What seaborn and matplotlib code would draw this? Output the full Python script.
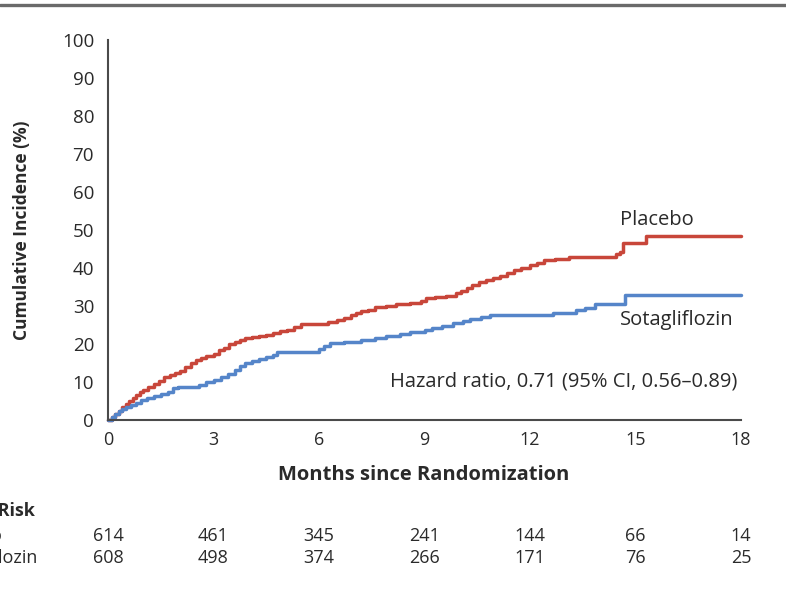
import matplotlib
matplotlib.use("Agg")
import matplotlib.pyplot as plt
from matplotlib.lines import Line2D
import seaborn as sns
import pandas as pd

# ---------------- data ----------------
placebo_t = [0, 0.1, 0.2, 0.3, 0.4, 0.5, 0.6, 0.7, 0.8, 0.9, 1.0, 1.15, 1.3, 1.45, 1.6, 1.75,
             1.9, 2.05, 2.2, 2.35, 2.5, 2.65, 2.8, 3.0, 3.15, 3.3, 3.45, 3.6, 3.75, 3.9, 4.1,
             4.3, 4.5, 4.7, 4.9, 5.1, 5.3, 5.5, 6.25, 6.5, 6.7, 6.9, 7.05, 7.2, 7.4, 7.6, 7.9,
             8.2, 8.6, 8.9, 9.05, 9.3, 9.6, 9.9, 10.05, 10.2, 10.35, 10.55, 10.75, 10.95,
             11.15, 11.35, 11.55, 11.75, 12.0, 12.2, 12.4, 12.7, 13.1, 14.45, 14.55, 14.65,
             15.3, 18.0]
placebo_v = [0, 0.8, 1.6, 2.5, 3.3, 4.1, 5.0, 5.7, 6.5, 7.3, 7.9, 8.8, 9.6, 10.3, 11.2, 11.8,
             12.3, 13.0, 14.0, 15.0, 15.8, 16.3, 16.8, 17.5, 18.3, 19.0, 20.0, 20.6, 21.0, 21.5,
             21.8, 22.2, 22.5, 22.8, 23.3, 23.8, 24.5, 25.2, 25.8, 26.3, 26.8, 27.6, 28.2, 28.6,
             29.0, 29.7, 30.0, 30.5, 30.8, 31.2, 32.2, 32.4, 32.7, 33.3, 34.0, 34.8, 35.4, 36.2,
             36.8, 37.5, 38.0, 38.8, 39.5, 40.0, 40.8, 41.3, 42.0, 42.3, 43.0, 43.6, 44.3, 46.5,
             48.5, 48.5]

sota_t = [0, 0.1, 0.2, 0.3, 0.4, 0.5, 0.65, 0.8, 0.95, 1.1, 1.3, 1.5, 1.7, 1.85, 2.0, 2.3,
          2.6, 2.8, 3.0, 3.2, 3.4, 3.6, 3.75, 3.9, 4.1, 4.3, 4.5, 4.7, 4.8, 5.9, 6.0, 6.15,
          6.3, 6.7, 7.2, 7.6, 7.9, 8.3, 8.6, 9.0, 9.2, 9.5, 9.8, 10.1, 10.3, 10.6, 10.85,
          12.65, 13.3, 13.55, 13.85, 14.7, 18.0]
sota_v = [0, 0.7, 1.5, 2.3, 3.0, 3.5, 4.0, 4.6, 5.3, 5.8, 6.3, 6.8, 7.3, 8.3, 8.6, 8.8,
          9.3, 9.9, 10.5, 11.2, 12.2, 13.2, 14.2, 15.0, 15.6, 16.0, 16.6, 17.2, 17.8, 18.0,
          18.7, 19.5, 20.2, 20.6, 21.0, 21.5, 22.0, 22.6, 23.2, 23.6, 24.2, 24.8, 25.4, 26.0,
          26.6, 27.0, 27.6, 28.2, 28.9, 29.6, 30.5, 32.9, 32.9]

risk_months = [0, 3, 6, 9, 12, 15, 18]
risk_placebo = [614, 461, 345, 241, 144, 66, 14]
risk_sota = [608, 498, 374, 266, 171, 76, 25]

x_ticks = [0, 3, 6, 9, 12, 15, 18]
y_ticks = [0, 10, 20, 30, 40, 50, 60, 70, 80, 90, 100]

# ---------------- style ----------------
sns.set_style("white")
plt.rcParams["font.family"] = ["Open Sans", "DejaVu Sans"]

RED = "#c8463a"
BLUE = "#5585c9"
GRAY = "#4a4a4a"
TXT = "#2a2a2a"

W, H = 786, 589
fig = plt.figure(figsize=(W / 100, H / 100), dpi=100)
fig.patch.set_facecolor("white")


def fx(px):
    return px / W


def fy(py):
    return 1 - py / H


X0, X1, Y0, Y1 = 108, 741, 420, 40
ax = fig.add_axes([fx(X0), fy(Y0), fx(X1) - fx(X0), fy(Y1) - fy(Y0)])

df = pd.concat([
    pd.DataFrame({"Months": placebo_t, "Incidence": placebo_v, "Group": "Placebo"}),
    pd.DataFrame({"Months": sota_t, "Incidence": sota_v, "Group": "Sotagliflozin"}),
])

sns.lineplot(data=df, x="Months", y="Incidence", hue="Group",
             palette={"Placebo": RED, "Sotagliflozin": BLUE},
             estimator=None, sort=False, drawstyle="steps-post",
             linewidth=2.5, legend=False, ax=ax, clip_on=False)

ax.set_xlim(0, 18)
ax.set_ylim(0, 100)
ax.set_xticks(x_ticks)
ax.set_yticks(y_ticks)
ax.set_xticklabels([str(t) for t in x_ticks], fontsize=13, color=TXT)
ax.set_yticklabels([str(t) for t in y_ticks], fontsize=13.5, color=TXT)
ax.tick_params(axis="x", direction="in", length=6, width=1.3, color=GRAY, pad=8)
ax.tick_params(axis="y", direction="out", length=8, width=1.3, color=GRAY, pad=2)
for s in ["top", "right"]:
    ax.spines[s].set_visible(False)
for s in ["left", "bottom"]:
    ax.spines[s].set_color(GRAY)
    ax.spines[s].set_linewidth(1.5)

ax.set_xlabel("")
ax.set_ylabel("")

# axis titles
fig.text(fx(424), fy(475), "Months since Randomization", ha="center", va="center",
         fontsize=14.5, fontweight="bold", color=TXT)
fig.text(fx(22), fy(230), "Cumulative Incidence (%)", ha="center", va="center",
         rotation=90, fontsize=12.5, fontweight="bold", color=TXT)

# annotations
fig.text(fx(620), fy(220), "Placebo", ha="left", va="center", fontsize=14.5, color=TXT)
fig.text(fx(620), fy(320), "Sotagliflozin", ha="left", va="center", fontsize=14.5, color=TXT)
fig.text(fx(737), fy(381), "Hazard ratio, 0.71 (95% CI, 0.56\u20130.89)", ha="right",
         va="center", fontsize=14.5, color=TXT)

# number at risk table
fig.text(fx(35), fy(511), "No. at Risk", ha="right", va="center", fontsize=13,
         fontweight="bold", color=TXT)
fig.text(fx(-64), fy(536), "Placebo", ha="left", va="center", fontsize=13, color=TXT)
fig.text(fx(-64), fy(558), "Sotagliflozin", ha="left", va="center", fontsize=13, color=TXT)
for m, a, b in zip(risk_months, risk_placebo, risk_sota):
    px = X0 + (X1 - X0) * m / 18
    fig.text(fx(px), fy(536), str(a), ha="center", va="center", fontsize=13, color=TXT)
    fig.text(fx(px), fy(558), str(b), ha="center", va="center", fontsize=13, color=TXT)

# top rule
fig.add_artist(Line2D([0, 1], [fy(5), fy(5)], transform=fig.transFigure,
                      color="#6a6a6a", linewidth=2.4))

fig.savefig("out.png", dpi=100, facecolor="white")
